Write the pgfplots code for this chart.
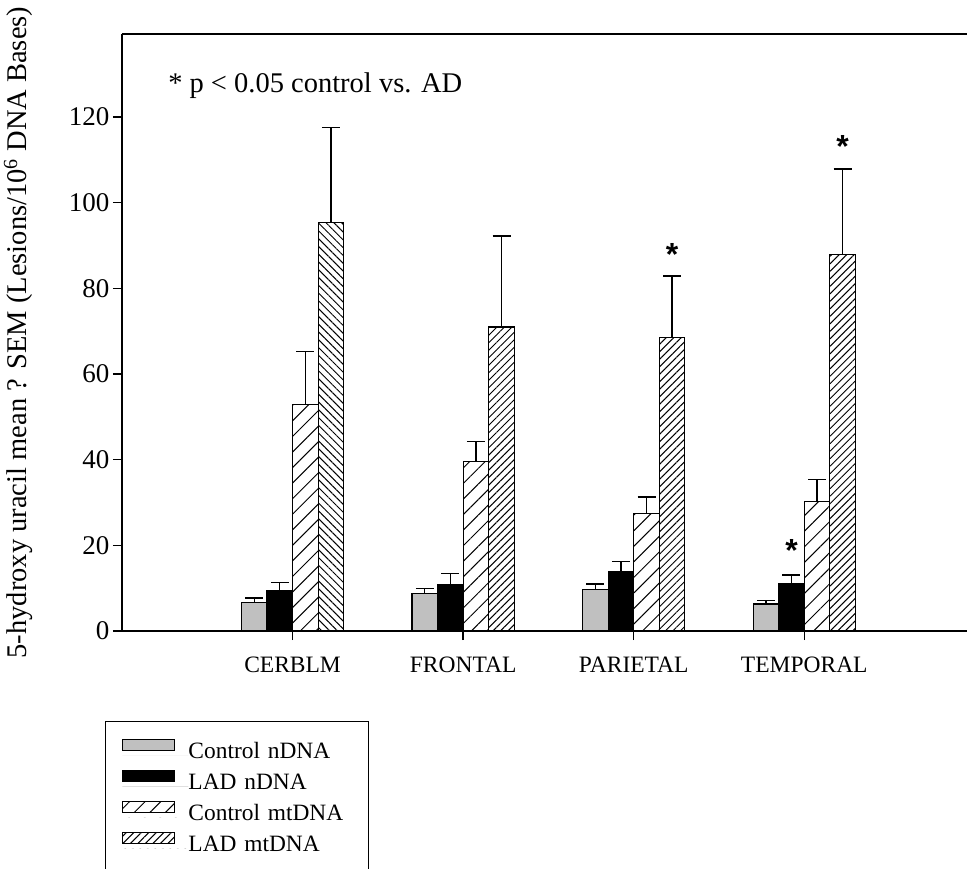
\documentclass[border=0pt]{standalone}
\usepackage{pgfplots}
\pgfplotsset{compat=1.18}
\usetikzlibrary{patterns.meta}
\usepackage{fontspec}
\setmainfont{Liberation Serif}
\newfontfamily\astfont{Liberation Sans}
\definecolor{ctrlgray}{RGB}{192,192,192}

\pgfplotsset{
  ebar/.style={error bars/.cd, y dir=plus, y explicit,
    error bar style={line width=1.3bp, black},
    error mark options={rotate=90, mark size=9bp, line width=1.3bp, black}},
}

\begin{document}
\begin{tikzpicture}
\begin{axis}[
    scale only axis, width=845bp, height=597bp,
    xmin=-1, xmax=3.954, ymin=0, ymax=139.4,
    axis lines*=left,
    axis line style={line width=1.4bp},
    clip=false,
    ybar, bar width=0.15,
    xtick={0,1,2,3},
    xticklabels={CERBLM,FRONTAL,PARIETAL,TEMPORAL},
    ytick={0,20,...,120},
    tick align=outside, major tick length=9bp,
    tick style={line width=1.3bp, black},
    /pgf/number format/assume math mode=true,
    yticklabel style={font=\fontsize{27bp}{30bp}\selectfont},
    xticklabel style={font=\fontsize{23.5bp}{28bp}\selectfont, yshift=-13bp},
    ylabel={5-hydroxy uracil mean ? SEM (Lesions/10\textsuperscript{6} DNA Bases)},
    ylabel style={at={(axis description cs:-0.1231,0.5)}, anchor=center,
      font=\fontsize{28.5bp}{32bp}\selectfont},
    legend style={at={(axis description cs:0,0)}, anchor=north west,
      xshift=-16.5bp, yshift=-89.7bp, draw=black, line width=1bp,
      inner xsep=16bp, inner ysep=18bp, row sep=0pt,
      font=\fontsize{23.4bp}{27bp}\selectfont,
      nodes={inner sep=0pt, text height=17.5bp, text depth=11.5bp, text width=164bp}},
    legend cell align=left,
    legend image code/.code={
      \draw[#1, line width=1bp] (0bp,5bp) rectangle (52bp,16bp);
      \path[draw=none] (0bp,0bp) -- (66bp,0bp);},
]
% Control nDNA
\addplot[fill=ctrlgray, draw=black, line width=1.2bp, bar shift=-0.225, ebar]
  coordinates {(0,6.7) +- (0,1.0) (1,8.7) +- (0,1.3) (2,9.7) +- (0,1.3) (3,6.3) +- (0,0.8)};
% LAD nDNA
\addplot[fill=black, draw=black, line width=1.2bp, bar shift=-0.075, ebar]
  coordinates {(0,9.4) +- (0,2.0) (1,10.9) +- (0,2.5) (2,13.9) +- (0,2.4) (3,11.1) +- (0,2.0)};
% Control mtDNA
\addplot[fill=white, draw=black, line width=1.2bp, bar shift=0.075,
  pattern={Lines[angle=45, distance=11bp, line width=1bp]}, pattern color=black, ebar]
  coordinates {(0,52.8) +- (0,12.4) (1,39.5) +- (0,4.8) (2,27.4) +- (0,3.9) (3,30.3) +- (0,5.0)};
% LAD mtDNA
\addplot[fill=white, draw=black, line width=1.2bp, bar shift=0.225,
  pattern={Lines[angle=45, distance=5.3bp, line width=1bp]}, pattern color=black, ebar]
  coordinates {(1,71.0) +- (0,21.2) (2,68.6) +- (0,14.3) (3,88.0) +- (0,19.9)};
% LAD mtDNA, CERBLM (hatched the other way)
\addplot[forget plot, fill=white, draw=black, line width=1.2bp, bar shift=0.225,
  pattern={Lines[angle=-45, distance=5.5bp, line width=1bp]}, pattern color=black, ebar]
  coordinates {(0,95.4) +- (0,22.1)};
\legend{Control nDNA, LAD nDNA, Control mtDNA, LAD mtDNA}

\draw[line width=1.4bp] (rel axis cs:0,1) -- (rel axis cs:1,1);
\node[anchor=base west, inner sep=0pt, font=\fontsize{28.5bp}{32bp}\selectfont]
  at (axis cs:-0.730,125.7) {* p < 0.05 control vs. AD};
\node[anchor=north, inner sep=0pt, font=\astfont\bfseries\fontsize{32bp}{36bp}\selectfont]
  at (axis cs:2.225,90.5) {*};
\node[anchor=north, inner sep=0pt, font=\astfont\bfseries\fontsize{32bp}{36bp}\selectfont]
  at (axis cs:3.225,115.7) {*};
\node[anchor=north, inner sep=0pt, font=\astfont\bfseries\fontsize{32bp}{36bp}\selectfont]
  at (axis cs:2.925,21.5) {*};

\coordinate (bl) at (rel axis cs:0,0);
\coordinate (tr) at (rel axis cs:1,1);
\end{axis}
\path (bl) ++(-122bp,-238bp) coordinate (pa);
\path (tr) ++(0bp,34bp) coordinate (pb);
\pgfresetboundingbox
\path (pa) rectangle (pb);
\end{tikzpicture}
\end{document}
